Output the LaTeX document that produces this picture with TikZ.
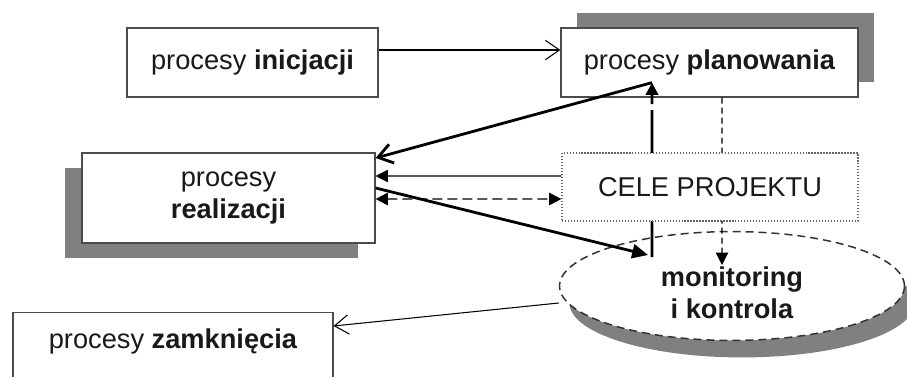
\documentclass[tikz,border=0pt]{standalone}
\usepackage{fontspec}
\setmainfont{Liberation Sans}
\usetikzlibrary{arrows.meta,shapes.geometric,shadows}

\begin{document}
\begin{tikzpicture}[x=0.02cm, y=-0.02cm,
    box/.style={rectangle, draw=black!70, line width=0.7pt, fill=white, text=black!90,
        font=\fontsize{15.5}{18.1}\selectfont},
    openarrow/.style={line width=0.6pt, -{Straight Barb[length=8pt,width=11pt]}},
    heavyline/.style={line width=1.6pt},
    fulltip/.tip={Triangle[length=7pt,width=7pt]}
    ]
    \useasboundingbox (0,0) rectangle (907,376);

    % the process groups
    \node[box, minimum width=5.02cm, minimum height=1.38cm] (ini) at (252.5,62.5) {procesy \textbf{inicjacji}};
    \node[box, minimum width=5.94cm, minimum height=1.38cm,
        drop shadow={shadow xshift=0.32cm, shadow yshift=0.3cm, fill=gray, opacity=1}] (plan) at (709.5,62.5) {procesy \textbf{planowania}};
    \node[box, align=center, minimum width=5.86cm, minimum height=1.8cm,
        drop shadow={shadow xshift=-0.34cm, shadow yshift=-0.3cm, fill=gray, opacity=1}] (real) at (228.5,198) {procesy\\\textbf{realizacji}};
    \node[box, ellipse, align=center, draw=black!80, line width=0.85pt, dash pattern=on 0.16cm off 0.1cm,
        minimum width=6.9cm, minimum height=2.1cm, text height=1.3cm,
        drop shadow={shadow xshift=0.2cm, shadow yshift=-0.34cm, fill=gray, opacity=1}] (mon) at (732,286) {\textbf{monitoring}\\\textbf{i kontrola}};
    \node[box, anchor=north, minimum width=6.4cm, inner ysep=0.2cm, text height=0.52cm, text depth=1cm] (zam) at (173,312) {procesy \textbf{zamknięcia}};

    % vertical links, partly hidden by the goals box
    \coordinate (tipup) at ([xshift=-1.15cm, yshift=0.3cm]plan.south);
    \coordinate (footup) at ([xshift=-1.6cm, yshift=0.58cm]mon.center);
    \draw[heavyline, dash pattern=on 0.9cm off 0.12cm, -{fulltip}] (footup) -- (tipup);
    \draw[line width=0.6pt, dash pattern=on 0.12cm off 0.08cm, -{fulltip}]
        ([xshift=0.25cm]plan.south) -- ([xshift=-0.2cm, yshift=0.42cm]mon.center);

    \node[box, draw=black!60, densely dotted, minimum width=5.92cm, minimum height=1.36cm] (cele) at (710,187) {CELE PROJEKTU};

    % connectors
    \draw[openarrow] ([yshift=0.25cm]ini.east) -- ([yshift=0.25cm]plan.west);
    \draw[heavyline, -{Straight Barb[length=8pt,width=11pt]}] (tipup) -- ([yshift=0.8cm]real.east);
    \draw[line width=0.7pt, -{fulltip}] ([yshift=0.22cm]cele.west) -- ([yshift=0.44cm]real.east);
    \draw[line width=1.1pt, black!65, dash pattern=on 0.2cm off 0.1cm,
        {Triangle[length=7pt,width=7pt,color=black]}-{Triangle[length=7pt,width=7pt,color=black]}]
        ([yshift=-0.02cm]real.east) -- ([yshift=-0.24cm]cele.west);
    \draw[heavyline, -{Triangle[length=9pt,width=8pt]}] ([yshift=0.2cm]real.east) -- ([xshift=-1.68cm, yshift=0.62cm]mon.center);
    \draw[openarrow] ([yshift=-0.34cm]mon.west) -- ([yshift=-0.28cm]zam.north east);
\end{tikzpicture}
\end{document}
